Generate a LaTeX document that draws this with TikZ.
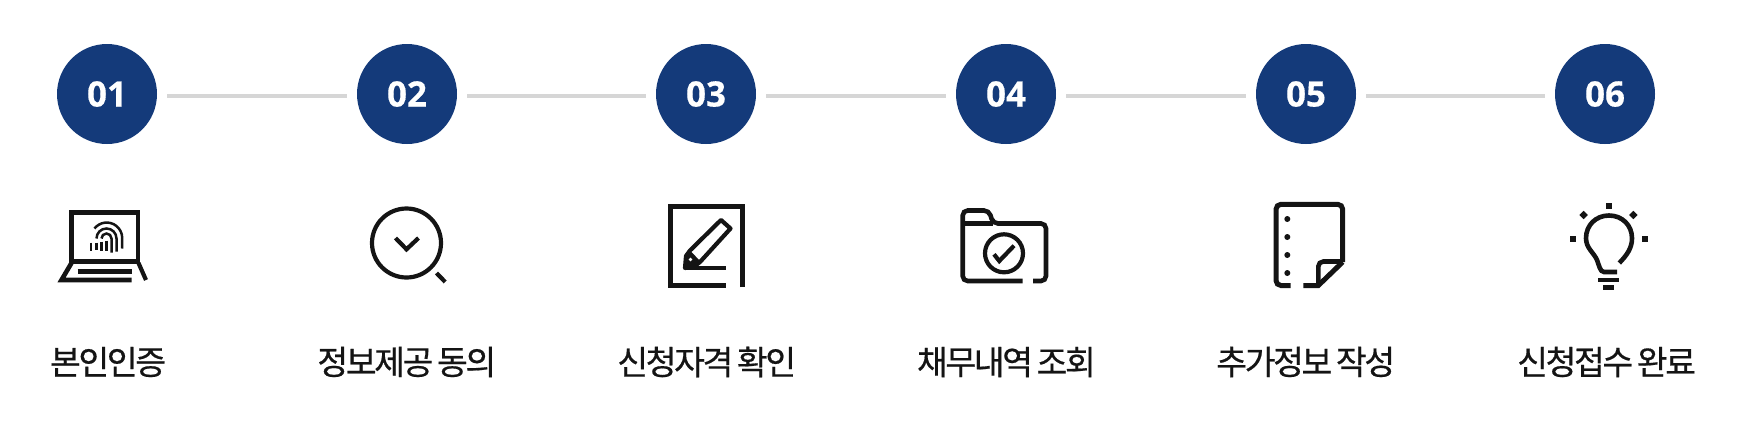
\documentclass[tikz,border=0pt]{standalone}
\usepackage{fontspec}
\setmainfont[BoldFeatures={FakeBold=0.4}]{Open Sans}
\newfontfamily\krfont[LetterSpace=-7.2,FakeBold=0.5,WordSpace=0.7]{Noto Sans CJK KR}
\definecolor{stepblue}{HTML}{143A7A}
\definecolor{stepgray}{HTML}{D6D6D6}
\definecolor{iconblack}{HTML}{141414}
\tikzset{
	stepdot/.style={circle, fill=stepblue, text=white, minimum size=100pt, inner sep=0pt, font=\fontsize{35}{35}\selectfont\bfseries},
	stepline/.style={line width=4pt, color=stepgray, shorten <=10pt, shorten >=10pt},
	steplabel/.style={inner sep=0pt, text=iconblack, font=\fontsize{33.5}{33.5}\krfont},
	iconline/.style={line width=4.6pt, color=iconblack},
	thinline/.style={line width=4.2pt, color=iconblack},
	fingerline/.style={line width=2.5pt, color=iconblack}
}

\begin{document}
\begin{tikzpicture}[x=1pt, y=-1pt]
			%%%%% START %%%%%
			\useasboundingbox (0, 0) rectangle (1746, 424);

			\node[stepdot] (dot1) at (107, 94) {\raisebox{-1pt}{01}};
			\node[stepdot] (dot2) at (407, 94) {\raisebox{-1pt}{02}};
			\node[stepdot] (dot3) at (706, 94) {\raisebox{-1pt}{03}};
			\node[stepdot] (dot4) at (1006, 94) {\raisebox{-1pt}{04}};
			\node[stepdot] (dot5) at (1306, 94) {\raisebox{-1pt}{05}};
			\node[stepdot] (dot6) at (1605, 94) {\raisebox{-1pt}{06}};

			\draw[stepline] ([yshift=-2.3pt]dot1.east) -- ([yshift=-2.3pt]dot2.west);
			\draw[stepline] ([yshift=-2.3pt]dot2.east) -- ([yshift=-2.3pt]dot3.west);
			\draw[stepline] ([yshift=-2.3pt]dot3.east) -- ([yshift=-2.3pt]dot4.west);
			\draw[stepline] ([yshift=-2.3pt]dot4.east) -- ([yshift=-2.3pt]dot5.west);
			\draw[stepline] ([yshift=-2.3pt]dot5.east) -- ([yshift=-2.3pt]dot6.west);

			\node[steplabel] (label1) at (108, 362) {본인인증};
			\node[steplabel] (label2) at (406.8, 362) {정보제공 동의};
			\node[steplabel] (label3) at (706.7, 362) {신청자격 확인};
			\node[steplabel] (label4) at (1006.4, 362) {채무내역 조회};
			\node[steplabel] (label5) at (1305.7, 362) {추가정보 작성};
			\node[steplabel] (label6) at (1606.6, 362) {신청접수 완료};

			% laptop
			\draw[iconline] (71.5, 212.5) rectangle (138, 261.5);
			\draw[iconline] (71.5, 263) -- (61.5, 280) -- (131.5, 280);
			\draw[thinline] (138.5, 263) -- (146, 280);
			\draw[thinline] (77.5, 271.5) -- (131.5, 271.5);
			\draw[fingerline] (94.5, 228.5) arc (218:360:15.5) -- (122, 248.5);
			\draw[fingerline] (91, 242.5) -- (91, 250.5);
			\draw[fingerline] (96.5, 238.5) arc (180:360:10) -- (116.5, 251.5);
			\draw[fingerline] (96.5, 242.5) -- (96.5, 249.5);
			\draw[fingerline] (101.5, 238.5) arc (180:360:5) -- (111.5, 252.5);
			\draw[fingerline] (101.5, 241.5) -- (101.5, 250.5);
			\draw[fingerline] (106.5, 240.5) -- (106.5, 250.5);

			% magnifier
			\draw[thinline] (406.5, 243) circle (34.5);
			\draw[thinline] (395.5, 238) -- (406.5, 249.3) -- (418.5, 238);
			\draw[thinline] (436.5, 273) -- (445.2, 282);

			% form and pencil
			\draw[line width=5pt, color=iconblack] (742.3, 287) -- (742.3, 206.8) -- (670.3, 206.8) -- (670.3, 285.3) -- (725.7, 285.3);
			\fill[iconblack] (685, 268) -- (686, 256) -- (690, 250.5) -- (701, 262) -- (694, 266.5) -- cycle;
			\draw[thinline, line join=round] (685, 268) -- (686, 256) -- (690, 250.5) -- (721, 220) -- (730.5, 228.5) -- (700, 262) -- (694, 266.5) -- cycle;
			\fill[white] (690.5, 259.5) circle (1.8);
			\draw[thinline] (685, 267.7) -- (725.7, 267.7);

			% folder
			\draw[iconline, rounded corners=5pt] (1022.7, 281) -- (962.7, 281) -- (962.7, 210.5) -- (989, 210.5) -- (993, 223.5) -- (1046, 223.5) -- (1046, 281) -- (1033, 281);
			\draw[iconline] (962.7, 223.5) -- (993, 223.5);
			\draw[thinline] (1004, 253.3) circle (19);
			\draw[thinline] (994, 254.3) -- (999.3, 261) -- (1014, 245.7);

			% note
			\draw[line width=5pt, color=iconblack, rounded corners=5pt] (1290.7, 285.5) -- (1276, 285.5) -- (1276, 204.3) -- (1342.7, 204.3) -- (1342.7, 262);
			\draw[line width=5pt, color=iconblack] (1342.7, 262) -- (1318.3, 285.5) -- (1303.3, 285.5);
			\draw[iconline, rounded corners=5pt] (1318.3, 285) -- (1318.3, 261.5) -- (1342.7, 261.5);
			\fill[iconblack] (1287.3, 219) circle (3);
			\fill[iconblack] (1287.3, 237) circle (3);
			\fill[iconblack] (1287.3, 255) circle (3);
			\fill[iconblack] (1287.3, 273) circle (3);

			% bulb
			\draw[iconline] (1619.3, 263) .. controls (1627, 255) and (1632, 248) .. (1632, 238.3) .. controls (1632, 225) and (1622, 215.5) .. (1609, 215.5) .. controls (1596, 215.5) and (1586, 225) .. (1586, 238.3) .. controls (1586, 248) and (1594, 253) .. (1597, 260) .. controls (1599, 265) and (1600, 272) .. (1604, 272) -- (1617, 272);
			\draw[iconline] (1598.3, 280) -- (1619.3, 280);
			\draw[line width=5pt, color=iconblack] (1603.3, 287.5) -- (1614, 287.5);
			\fill[iconblack] (1606, 202.7) rectangle (1612, 208.7);
			\fill[iconblack] (1569.7, 235.7) rectangle (1575.7, 241.7);
			\fill[iconblack] (1642, 235.7) rectangle (1648, 241.7);
			\fill[iconblack, rotate around={45:(1583.7, 215)}] (1580.7, 212) rectangle (1586.7, 218);
			\fill[iconblack, rotate around={45:(1633.3, 215)}] (1630.3, 212) rectangle (1636.3, 218);
			%%%%% END %%%%%
\end{tikzpicture}
\end{document}
